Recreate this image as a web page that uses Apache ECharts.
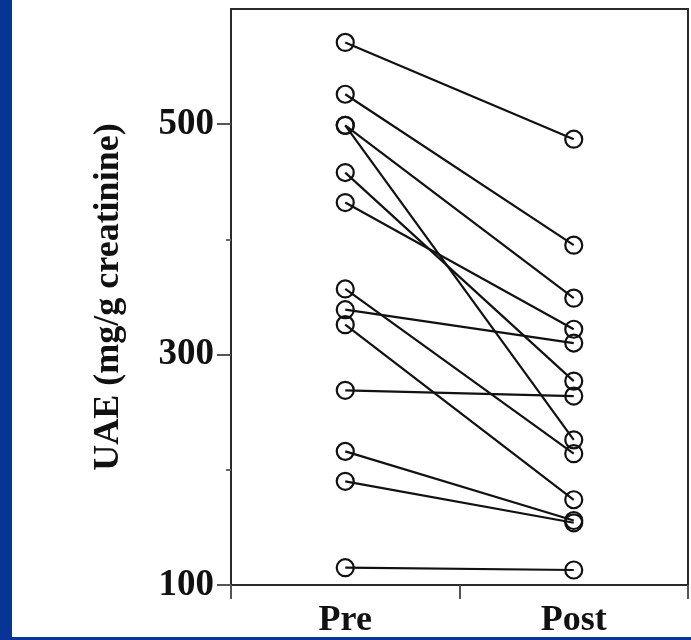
<!DOCTYPE html>
<html>
<head>
<meta charset="utf-8">
<script src="https://cdn.jsdelivr.net/npm/echarts@6/dist/echarts.min.js"></script>
<style>
  html, body { margin: 0; padding: 0; background: #fff; }
  #chart { width: 691px; height: 640px; }
</style>
</head>
<body>
<div id="chart"></div>
<script>
// UAE per subject, before and after treatment (mg/g creatinine)
const categories = ['Pre', 'Post']
const preValues = [571, 526, 499, 499, 458, 432, 357, 339, 326, 269, 216, 190, 115]
const postValues = [487, 395, 349, 226, 277, 322, 214, 310, 174, 264, 156, 154, 113]
const yTickLabels = [100, 300, 500]

const lineColor = '#111'
const frameColor = '#2a2a2a'
const blue = '#063595'

const series = preValues.map((pre, i) => ({
  type: 'line',
  data: [pre, postValues[i]],
  symbol: 'circle',
  symbolSize: 17,
  itemStyle: { color: 'rgba(0,0,0,0)', borderColor: lineColor, borderWidth: 2.2 },
  lineStyle: { color: lineColor, width: 2.2 },
  emphasis: { disabled: true },
  z: 3
}))

const chart = echarts.init(document.getElementById('chart'))
chart.setOption({
  animation: false,
  backgroundColor: '#fff',
  textStyle: { fontFamily: 'Liberation Serif', fontWeight: 'bold', color: '#111' },
  grid: {
    left: 231, right: 3, top: 9, bottom: 55,
    show: true, borderColor: frameColor, borderWidth: 2, backgroundColor: '#fff'
  },
  graphic: [
    { type: 'rect', left: 0, top: 0, shape: { width: 12, height: 640 }, style: { fill: blue }, z: 10 },
    { type: 'rect', left: 0, top: 637, shape: { width: 691, height: 3 }, style: { fill: blue }, z: 10 }
  ],
  xAxis: {
    type: 'category',
    data: categories,
    boundaryGap: true,
    axisLine: { lineStyle: { color: frameColor, width: 2 } },
    axisTick: { show: true, length: 14, lineStyle: { color: '#555', width: 2 } },
    axisLabel: {
      margin: 18, fontSize: 36, fontWeight: 'bold', color: '#111',
      fontFamily: 'Liberation Serif'
    },
    splitLine: { show: false }
  },
  yAxis: {
    type: 'value',
    min: 100,
    max: 600,
    interval: 200,
    name: 'UAE (mg/g creatinine)',
    nameLocation: 'middle',
    nameGap: 104,
    nameTextStyle: { fontSize: 36, fontWeight: 'bold', color: '#111', fontFamily: 'Liberation Serif' },
    axisLine: { show: true, lineStyle: { color: frameColor, width: 2 } },
    axisTick: { show: true, length: 14, customValues: yTickLabels, lineStyle: { color: '#555', width: 2 } },
    minorTick: { show: true, splitNumber: 2, length: 5, lineStyle: { color: '#666', width: 2 } },
    axisLabel: {
      margin: 17, fontSize: 37, fontWeight: 'bold', color: '#111',
      fontFamily: 'Liberation Serif',
      customValues: yTickLabels
    },
    splitLine: { show: false },
    minorSplitLine: { show: false }
  },
  series: series
})
</script>
</body>
</html>
